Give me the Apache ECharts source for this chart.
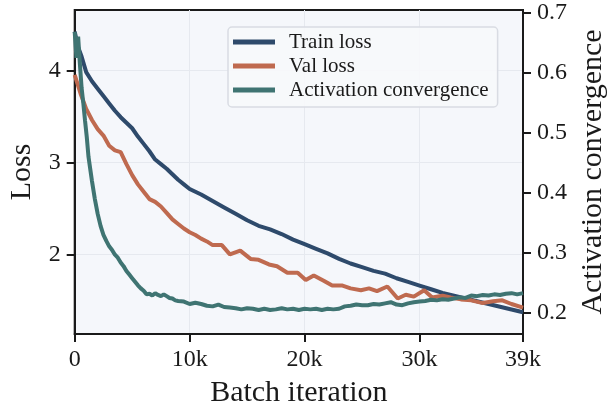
<!DOCTYPE html>
<html>
<head>
<meta charset="utf-8">
<script src="https://cdn.jsdelivr.net/npm/echarts@6/dist/echarts.min.js"></script>
<style>
    html, body { margin: 0; padding: 0; background: #fff; }
    #cn1 { width: 609px; height: 406px; }
</style>
</head>
<body>
<div id="cn1"></div>
<script>
'use strict';

const arrTrainX = [0, 300, 600, 1000, 1500, 2000, 2500, 3000, 3500, 4000, 4500, 5000, 5500, 6000, 6500, 7000, 7500, 8000, 8500, 9000, 9500, 10000,
    11000, 12000, 13000, 14000, 15000, 16000, 17000, 18000, 19000, 20000, 21000, 22000, 23000, 24000, 25000, 26000, 27000, 28000, 29000,
    30000, 31000, 32000, 33000, 34000, 35000, 36000, 37000, 38000, 39000];
const arrTrain = [4.42, 4.25, 4.15, 3.98, 3.88, 3.80, 3.72, 3.64, 3.56, 3.49, 3.43, 3.37, 3.28, 3.20, 3.12, 3.03, 2.98, 2.93, 2.87, 2.81, 2.76, 2.71,
    2.65, 2.58, 2.51, 2.44, 2.37, 2.31, 2.27, 2.22, 2.16, 2.11, 2.06, 2.01, 1.95, 1.90, 1.86, 1.82, 1.79, 1.74, 1.70,
    1.66, 1.62, 1.58, 1.55, 1.52, 1.49, 1.46, 1.43, 1.40, 1.37];

const arrValX = [0, 500, 1000, 1500, 2000, 2500, 3000, 3500, 4000, 4500, 5000, 5500, 6000, 6500, 7000, 7500, 8000, 8500, 9000, 9500, 10000,
    10500, 11000, 11500, 12000, 12800, 13500, 14400, 15300, 16000, 16900, 17600, 18500, 19400, 20100, 20800, 21700, 22400, 23300, 24000,
    24900, 25600, 26300, 27200, 28100, 28800, 29500, 30400, 31100, 32000, 32700, 33600, 34500, 35500, 36400, 37200, 38000, 39000];
const arrVal = [3.95, 3.75, 3.58, 3.46, 3.36, 3.29, 3.18, 3.13, 3.11, 2.98, 2.86, 2.76, 2.68, 2.60, 2.57, 2.52, 2.45, 2.38, 2.33, 2.28, 2.24,
    2.21, 2.17, 2.14, 2.10, 2.10, 2.00, 2.04, 1.95, 1.94, 1.89, 1.87, 1.80, 1.80, 1.72, 1.77, 1.71, 1.66, 1.66, 1.63,
    1.61, 1.63, 1.60, 1.65, 1.52, 1.56, 1.54, 1.61, 1.53, 1.55, 1.53, 1.51, 1.50, 1.47, 1.49, 1.50, 1.46, 1.42];

const arrActX = [0, 150, 300, 450, 600, 750, 900, 1050, 1200, 1350, 1500, 1750, 2000, 2250, 2500, 2750, 3000, 3250, 3500, 3750,
    4000, 4250, 4500, 4750, 5000, 5250, 5500, 5750, 6000, 6250, 6500, 6750, 7000, 7250, 7500, 7750, 8000, 8250, 8500, 8750,
    9000, 9500, 10000, 10500, 11000, 11500, 12000, 12500, 13000, 13500, 14000, 14500, 15000, 15500, 16000, 16500, 17000, 17500,
    18000, 18500, 19000, 19500, 20000, 20500, 21000, 21500, 22000, 22500, 23000, 23500, 24000, 24500, 25000, 25500, 26000, 26500,
    27000, 27500, 28000, 28500, 29000, 29500, 30000, 30500, 31000, 31500, 32000, 32500, 33000, 33500, 34000, 34500, 35000, 35500,
    36000, 36500, 37000, 37500, 38000, 38500, 39000];
const arrAct = [0.668, 0.625, 0.660, 0.615, 0.575, 0.549, 0.520, 0.493, 0.460, 0.440, 0.420, 0.390, 0.365, 0.345, 0.330, 0.320, 0.311, 0.305, 0.297, 0.292,
    0.284, 0.278, 0.270, 0.264, 0.258, 0.252, 0.246, 0.241, 0.237, 0.231, 0.232, 0.229, 0.233, 0.230, 0.228, 0.231, 0.228, 0.225, 0.224, 0.221,
    0.220, 0.219, 0.215, 0.217, 0.215, 0.212, 0.211, 0.214, 0.210, 0.209, 0.208, 0.206, 0.208, 0.207, 0.205, 0.207, 0.205, 0.206,
    0.208, 0.206, 0.207, 0.205, 0.207, 0.206, 0.207, 0.205, 0.207, 0.206, 0.207, 0.211, 0.212, 0.214, 0.213, 0.213, 0.215, 0.214,
    0.216, 0.218, 0.214, 0.213, 0.216, 0.218, 0.219, 0.220, 0.222, 0.221, 0.223, 0.222, 0.224, 0.226, 0.225, 0.229, 0.228, 0.230,
    0.229, 0.231, 0.230, 0.232, 0.233, 0.231, 0.233];

const arrTickX = [0, 10000, 20000, 30000, 39000];
const arrTickLoss = [2, 3, 4];
const arrTickAct = [0.2, 0.3, 0.4, 0.5, 0.6, 0.7];

const strFont = '"Liberation Serif", "DejaVu Serif", serif';
const colInk = '#1a1a1a';

const zip = (arrX, arrY) => arrX.map((x, i) => [x, arrY[i]]);

const echartsLoss = echarts.init(document.getElementById('cn1'));

const axisCommon = {
    axisLine: { show: true, onZero: false, lineStyle: { color: colInk, width: 2 } },
    axisTick: { show: true, inside: false, length: 8, lineStyle: { color: colInk, width: 2 } },
    axisLabel: { color: colInk, fontFamily: strFont, fontSize: 24, margin: 14 },
    nameLocation: 'middle',
    nameTextStyle: { color: colInk, fontFamily: strFont, fontSize: 30 }
};

const optionLoss = {
    animation: false,
    grid: {
        left: 74.7,
        right: 86,
        top: 10,
        bottom: 72,
        outerBoundsMode: 'none',
        containLabel: false,
        show: true,
        backgroundColor: '#f5f7fb',
        borderColor: colInk,
        borderWidth: 2
    },
    legend: {
        orient: 'vertical',
        left: 228,
        top: 27,
        padding: [4, 9, 6, 5],
        itemWidth: 42,
        itemHeight: 5,
        itemGap: 2,
        backgroundColor: 'rgba(247,248,251,0.9)',
        borderColor: '#d9dce3',
        borderWidth: 1.5,
        borderRadius: 4,
        textStyle: {
            color: colInk,
            fontFamily: strFont,
            fontSize: 21,
            lineHeight: 22,
            padding: [0, 0, 0, 9]
        },
        data: [
            { name: 'Train loss', icon: 'rect' },
            { name: 'Val loss', icon: 'rect' },
            { name: 'Activation convergence', icon: 'rect' }
        ]
    },
    xAxis: [{
        ...axisCommon,
        type: 'value',
        min: 0,
        max: 39000,
        name: 'Batch iteration',
        nameGap: 44,
        axisTick: { ...axisCommon.axisTick, customValues: arrTickX },
        axisLabel: {
            ...axisCommon.axisLabel,
            customValues: arrTickX,
            formatter: v => v === 0 ? '0' : (v / 1000) + 'k'
        },
        splitLine: { show: true, lineStyle: { color: '#e6e9ef', width: 1 } }
    }],
    yAxis: [{
        ...axisCommon,
        type: 'value',
        position: 'left',
        min: 1.134,
        max: 4.655,
        name: 'Loss',
        nameGap: 38,
        axisTick: { ...axisCommon.axisTick, customValues: arrTickLoss },
        axisLabel: { ...axisCommon.axisLabel, customValues: arrTickLoss, formatter: v => String(v) },
        splitLine: { show: true, lineStyle: { color: '#e6e9ef', width: 1 } }
    }, {
        ...axisCommon,
        type: 'value',
        position: 'right',
        min: 0.165,
        max: 0.7045,
        name: 'Activation convergence',
        nameGap: 54,
        axisTick: { ...axisCommon.axisTick, customValues: arrTickAct },
        axisLabel: { ...axisCommon.axisLabel, customValues: arrTickAct, formatter: v => v.toFixed(1) },
        splitLine: { show: false }
    }],
    series: [{
        name: 'Train loss',
        type: 'line',
        yAxisIndex: 0,
        symbol: 'none',
        color: '#2e4a6b',
        lineStyle: { width: 4, color: '#2e4a6b' },
        data: zip(arrTrainX, arrTrain)
    }, {
        name: 'Val loss',
        type: 'line',
        yAxisIndex: 0,
        symbol: 'none',
        color: '#bf6a4f',
        lineStyle: { width: 4, color: '#bf6a4f' },
        data: zip(arrValX, arrVal)
    }, {
        name: 'Activation convergence',
        type: 'line',
        yAxisIndex: 1,
        symbol: 'none',
        color: '#3f7472',
        lineStyle: { width: 4, color: '#3f7472' },
        data: zip(arrActX, arrAct)
    }]
};

echartsLoss.setOption(optionLoss);
</script>
</body>
</html>
